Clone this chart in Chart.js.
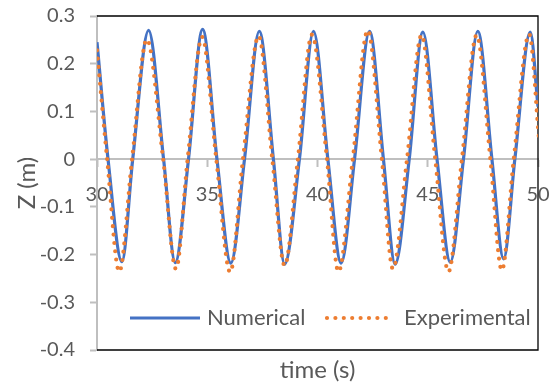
<!DOCTYPE html>
<html>
<head>
<meta charset="utf-8">
<script src="https://cdn.jsdelivr.net/npm/chart.js@4/dist/chart.umd.min.js"></script>
<style>
  html, body { margin: 0; padding: 0; background: #fff; }
  #wrap { width: 555px; height: 389px; }
</style>
</head>
<body>
<div id="wrap"><canvas id="lineChart" width="555" height="389"></canvas></div>
<script>
// values (time in s, Z in m)
var timeNum = [30, 30.5, 31.13, 31.62, 32.34, 33.02, 33.55, 34.15, 34.79, 35.44, 36.07, 36.69, 37.36, 38.0, 38.51, 39.18, 39.82, 40.47, 41.07, 41.68, 42.36, 42.99, 43.52, 44.16, 44.78, 45.42, 46.02, 46.62, 47.27, 47.91, 48.44, 48.95, 49.65, 50];
var zNum = [0.245, 0, -0.215, 0, 0.27, 0, -0.217, 0, 0.272, 0, -0.218, 0, 0.268, 0, -0.22, 0, 0.268, 0, -0.218, 0, 0.268, 0, -0.22, 0, 0.266, 0, -0.216, 0, 0.268, 0, -0.209, 0, 0.266, 0.11];

var timeExp = [30, 30.46, 31.01, 31.59, 32.26, 33.0, 33.58, 34.11, 34.77, 35.41, 36.04, 36.62, 37.33, 37.95, 38.51, 39.11, 39.75, 40.43, 40.95, 41.6, 42.28, 42.92, 43.42, 44.06, 44.72, 45.34, 45.94, 46.55, 47.22, 47.84, 48.36, 48.9, 49.6, 50.05];
var zExp = [0.228, 0, -0.236, 0, 0.251, 0, -0.23, 0, 0.256, 0, -0.237, 0, 0.258, 0, -0.223, 0, 0.261, 0, -0.236, 0, 0.27, 0, -0.23, 0, 0.26, 0, -0.236, 0, 0.26, 0, -0.233, 0, 0.262, 0.04];

var seriesNames = ["Numerical", "Experimental"];
var xTicks = [30, 35, 40, 45, 50];
var yTicks = [-0.4, -0.3, -0.2, -0.1, 0, 0.1, 0.2, 0.3];

function toPoints(xs, ys) {
	return xs.map(function (x, i) { return {x: x, y: ys[i]}; });
}

var grey = "#595959";
var axisGrey = "#bfbfbf";

//frame round the plot area (top, right, bottom)
var frame = {
	id: 'frame',
	beforeDatasetsDraw: function (chart) {
		var a = chart.chartArea, ctx = chart.ctx;
		ctx.save();
		ctx.strokeStyle = "#000";
		ctx.lineWidth = 1.3;
		ctx.beginPath();
		ctx.moveTo(a.left, a.top);
		ctx.lineTo(a.right, a.top);
		ctx.lineTo(a.right, a.bottom);
		ctx.lineTo(a.left, a.bottom);
		ctx.stroke();
		ctx.restore();
	}
};

//legend drawn inside the plot, near the bottom
var insideLegend = {
	id: 'insideLegend',
	afterDatasetsDraw: function (chart) {
		var a = chart.chartArea, ctx = chart.ctx;
		var y = a.bottom - 32;
		var slots = [{x0: a.left + 33, x1: a.left + 103, tx: a.left + 110},
		             {x0: a.left + 230, x1: a.left + 292, tx: a.left + 307}];
		ctx.save();
		chart.data.datasets.forEach(function (ds, i) {
			var s = slots[i];
			ctx.strokeStyle = ds.borderColor;
			ctx.lineWidth = ds.borderWidth;
			ctx.lineCap = ds.borderCapStyle || 'butt';
			ctx.setLineDash(ds.borderDash || []);
			ctx.beginPath();
			ctx.moveTo(s.x0, y);
			ctx.lineTo(s.x1, y);
			ctx.stroke();
			ctx.setLineDash([]);
			ctx.fillStyle = grey;
			ctx.font = "22px Lato";
			ctx.textBaseline = "middle";
			ctx.fillText(ds.label, s.tx, y);
		});
		ctx.restore();
	}
};

var lineChart = document.getElementById("lineChart");
var myLineChart = new Chart(lineChart, {
	type: 'line',
	data: {
		datasets: [
			//solid blue line
			{
			label: seriesNames[0],
			data: toPoints(timeNum, zNum),
			borderColor: "#4472c4",
			backgroundColor: "#4472c4",
			borderWidth: 3.2,
			pointRadius: 0,
			fill: false,
			cubicInterpolationMode: 'monotone',
			order: 1
			},
			//orange round dots
			{
			label: seriesNames[1],
			data: toPoints(timeExp, zExp),
			borderColor: "#ed7d31",
			backgroundColor: "#ed7d31",
			borderWidth: 4.2,
			borderDash: [0, 8.4],
			borderCapStyle: 'round',
			pointRadius: 0,
			fill: false,
			cubicInterpolationMode: 'monotone',
			order: 0
			}
		]
	},
	options: {
		responsive: false,
		animation: false,
		events: [],
		layout: { padding: { top: 16, right: 17, left: 0, bottom: 0 } },
		plugins: {
			legend: { display: false },
			tooltip: { enabled: false }
		},
		scales: {
			x: {
				type: 'linear',
				position: { y: 0 },
				min: 30,
				max: 50,
				afterBuildTicks: function (scale) {
					scale.ticks = xTicks.map(function (v) { return {value: v}; });
				},
				afterFit: function (scale) { scale.paddingLeft = 0; scale.paddingRight = 0; },
				grid: { display: true, drawOnChartArea: false, tickLength: 7, tickColor: axisGrey, tickWidth: 2 },
				border: { display: true, color: axisGrey, width: 2 },
				ticks: { color: grey, font: { family: 'Lato', size: 20 }, padding: 16, maxRotation: 0 }
			},
			x2: {
				type: 'linear',
				position: 'bottom',
				min: 30,
				max: 50,
				afterFit: function (scale) { scale.height = 39; scale.paddingLeft = 0; scale.paddingRight = 0; },
				grid: { display: false },
				border: { display: false },
				ticks: { display: false },
				title: { display: true, text: 'time (s)', color: grey, font: { family: 'Lato', size: 24 }, padding: { top: 0, bottom: 4 } }
			},
			y: {
				min: -0.4,
				max: 0.3,
				afterBuildTicks: function (scale) {
					scale.ticks = yTicks.map(function (v) { return {value: v}; });
				},
				afterFit: function (scale) { scale.width = 97; scale.paddingTop = 0; scale.paddingBottom = 0; },
				grid: { display: true, drawOnChartArea: false, tickLength: 7, tickColor: axisGrey, tickWidth: 2 },
				border: { display: true, color: axisGrey, width: 2 },
				ticks: { color: grey, font: { family: 'Lato', size: 20 }, padding: 15 },
				title: { display: true, text: 'Z (m)', color: grey, font: { family: 'Lato', size: 24 }, padding: { top: 13, bottom: 0 } }
			}
		}
	},
	plugins: [frame, insideLegend]
});
</script>
</body>
</html>
